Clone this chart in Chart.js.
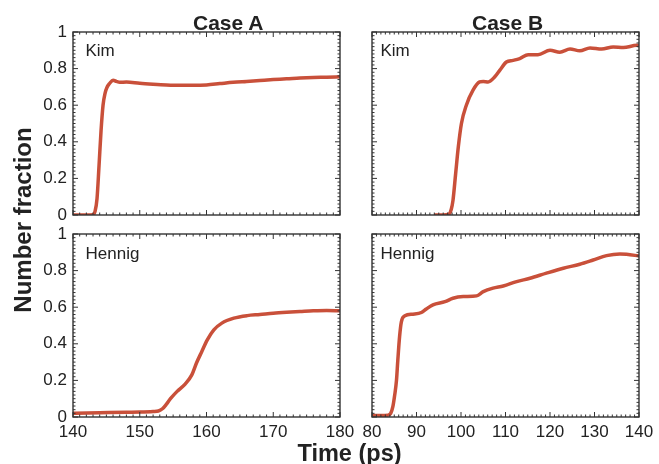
<!DOCTYPE html>
<html>
<head>
<meta charset="utf-8">
<title>Number fraction vs time</title>
<script src="https://cdn.jsdelivr.net/npm/chart.js@4.4.1/dist/chart.umd.min.js"></script>
<style>
  body { margin: 0; background: #fff; }
  #figure {
    position: relative;
    width: 659px;
    height: 464px;
    overflow: hidden;
    background: #fff;
    font-family: "Liberation Sans", Arial, sans-serif;
    color: #222;
  }
  #figure canvas { position: absolute; left: 0; top: 0; }
  .label { position: absolute; white-space: nowrap; line-height: 1; }
  .case { font-size: 21px; font-weight: bold; top: 11.5px; }
  .model { font-size: 17px; }
  .axis-title { font-size: 23.5px; font-weight: bold; }
  #ylabel {
    font-size: 24px;
    line-height: 24px;
    width: 300px;
    text-align: center;
    left: -126.6px;
    top: 208px;
    transform: rotate(-90deg);
  }
</style>
</head>
<body>
<div id="figure">
  <canvas id="kimA" width="659" height="464"></canvas>
  <canvas id="kimB" width="659" height="464"></canvas>
  <canvas id="hennigA" width="659" height="464"></canvas>
  <canvas id="hennigB" width="659" height="464"></canvas>

  <div class="label case" style="left:193px">Case A</div>
  <div class="label case" style="left:472px">Case B</div>
  <div class="label model" style="left:85.5px; top:41.6px">Kim</div>
  <div class="label model" style="left:380.5px; top:41.6px">Kim</div>
  <div class="label model" style="left:85.5px; top:245px">Hennig</div>
  <div class="label model" style="left:380.5px; top:245px">Hennig</div>
  <div class="label axis-title" style="left:297.5px; top:442px">Time (ps)</div>
  <div class="label axis-title" id="ylabel">Number fraction</div>
</div>

<script>
// Case A, Kim potential
const kimATime = [140, 141, 142, 143, 143.3, 143.6, 143.9, 144.2, 144.5, 144.8, 145.1, 145.5, 146, 146.5, 147, 148,
  150, 152, 154, 156, 158, 160, 162, 164, 166, 168, 170, 172, 174, 176, 178, 180];
const kimAFrac = [0, 0, 0, 0.002, 0.02, 0.09, 0.27, 0.46, 0.6, 0.665, 0.698, 0.72, 0.737, 0.73, 0.725, 0.727,
  0.72, 0.715, 0.711, 0.709, 0.709, 0.711, 0.718, 0.725, 0.73, 0.735, 0.74, 0.744, 0.749, 0.752, 0.753, 0.755];

// Case A, Hennig potential
const hennigATime = [140, 144, 148, 150, 152, 152.8, 153.4, 154, 154.6, 155.6, 156.8, 157.8, 158.5, 159.3,
  160.1, 161.1, 162.3, 164.1, 166.1, 168, 170, 172, 174, 176, 178, 180];
const hennigAFrac = [0.02, 0.023, 0.026, 0.027, 0.03, 0.033, 0.045, 0.07, 0.1, 0.14, 0.18, 0.23, 0.295, 0.358,
  0.42, 0.476, 0.513, 0.54, 0.554, 0.56, 0.567, 0.572, 0.576, 0.58, 0.582, 0.58];

// Case B, Kim potential
const kimBTime = [94, 96, 97.3, 97.8, 98.2, 98.8, 99.4, 100.1, 101.2, 102.7, 104.2, 105, 106.1, 107.6, 108.7,
  110.2, 111.7, 113.2, 115.1, 117.3, 120, 122.2, 124.5, 126.7, 129, 131.6, 134.2, 136.5, 139.5, 140];
const kimBFrac = [0, 0, 0.005, 0.03, 0.08, 0.227, 0.373, 0.5, 0.6, 0.682, 0.727, 0.73, 0.727, 0.755, 0.79,
  0.836, 0.845, 0.855, 0.876, 0.876, 0.9, 0.89, 0.907, 0.897, 0.913, 0.907, 0.918, 0.915, 0.927, 0.925];

// Case B, Hennig potential
const hennigBTime = [80, 82, 83.6, 84.2, 84.7, 85.1, 85.5, 85.8, 86.2, 86.6, 87.4, 89.2, 91.1, 92.2, 93.7, 96.4,
  98.2, 100.5, 103.5, 105, 107.2, 109.5, 112.5, 115.5, 119.2, 123, 126.7, 129.7, 132.7, 135.7, 137.2, 140];
const hennigBFrac = [0.008, 0.008, 0.01, 0.02, 0.058, 0.12, 0.2, 0.31, 0.44, 0.52, 0.553, 0.562, 0.571, 0.59,
  0.613, 0.63, 0.649, 0.658, 0.662, 0.685, 0.704, 0.716, 0.74, 0.758, 0.786, 0.813, 0.835, 0.858, 0.882,
  0.891, 0.889, 0.88];

// Axis ticks
const timeTicksA = [140, 150, 160, 170, 180];
const timeTicksB = [80, 90, 100, 110, 120, 130, 140];
const fracTicks = [0, 0.2, 0.4, 0.6, 0.8, 1];

const LINE_COLOR = '#c9503a';
const AXIS_COLOR = '#333';
const PAGE_W = 659;
const PAGE_H = 464;

/**
 * Frame around the plot area with inward major/minor ticks on all four sides
 */
const framePlugin = {
  id: 'frame',
  afterDraw(chart) {
    const { ctx, chartArea: a } = chart;
    const x = chart.scales.x;
    const y = chart.scales.y;

    ctx.save();
    ctx.strokeStyle = AXIS_COLOR;
    ctx.lineWidth = 1;
    ctx.beginPath();

    // time ticks every 1 ps, major every 10
    for (let v = Math.ceil(x.min); v <= x.max; v += 1) {
      const px = x.getPixelForValue(v);
      const len = v % 10 === 0 ? 5 : 2.5;
      ctx.moveTo(px, a.bottom);
      ctx.lineTo(px, a.bottom - len);
      ctx.moveTo(px, a.top);
      ctx.lineTo(px, a.top + len);
    }

    // fraction ticks every 0.02, major every 0.2
    for (let i = 0; i <= 50; i++) {
      const py = y.getPixelForValue(i * 0.02);
      const len = i % 10 === 0 ? 5 : 2.5;
      ctx.moveTo(a.left, py);
      ctx.lineTo(a.left + len, py);
      ctx.moveTo(a.right, py);
      ctx.lineTo(a.right - len, py);
    }
    ctx.stroke();

    ctx.lineWidth = 1.4;
    ctx.strokeRect(a.left, a.top, a.right - a.left, a.bottom - a.top);
    ctx.restore();
  }
};

/**
 * Build one panel: a line chart whose plot area sits at box = [left, top, right, bottom]
 */
function makePanel(canvasId, time, frac, xTicks, box, showX, showY) {
  const yWidth = showY ? 45 : 0;
  const xHeight = showX ? 30 : 0;
  const [left, top, right, bottom] = box;

  return new Chart(document.getElementById(canvasId), {
    type: 'line',
    data: {
      datasets: [{
        data: time.map((t, i) => ({ x: t, y: frac[i] })),
        borderColor: LINE_COLOR,
        borderWidth: 3.5,
        pointRadius: 0,
        fill: false,
        cubicInterpolationMode: 'monotone'
      }]
    },
    options: {
      responsive: false,
      animation: false,
      devicePixelRatio: 1,
      layout: {
        padding: {
          left: left - yWidth,
          top: top,
          right: PAGE_W - right,
          bottom: PAGE_H - bottom - xHeight
        }
      },
      plugins: {
        legend: { display: false },
        tooltip: { enabled: false }
      },
      scales: {
        x: {
          type: 'linear',
          min: xTicks[0],
          max: xTicks[xTicks.length - 1],
          afterBuildTicks: scale => { scale.ticks = xTicks.map(v => ({ value: v })); },
          afterFit: scale => { scale.height = xHeight; },
          grid: { display: false, drawTicks: false },
          border: { display: false },
          ticks: {
            display: showX,
            autoSkip: false,
            maxRotation: 0,
            padding: 5,
            color: '#222',
            font: { family: '"Liberation Sans", Arial, sans-serif', size: 17 },
            callback: v => String(v)
          }
        },
        y: {
          type: 'linear',
          min: 0,
          max: 1,
          afterBuildTicks: scale => { scale.ticks = fracTicks.map(v => ({ value: v })); },
          afterFit: scale => { scale.width = yWidth; },
          grid: { display: false, drawTicks: false },
          border: { display: false },
          ticks: {
            display: showY,
            autoSkip: false,
            padding: 6,
            color: '#222',
            font: { family: '"Liberation Sans", Arial, sans-serif', size: 17 },
            callback: v => String(v)
          }
        }
      }
    },
    plugins: [framePlugin]
  });
}

makePanel('kimA', kimATime, kimAFrac, timeTicksA, [73, 32, 340, 215], false, true);
makePanel('kimB', kimBTime, kimBFrac, timeTicksB, [372, 32, 639, 215], false, false);
makePanel('hennigA', hennigATime, hennigAFrac, timeTicksA, [73, 234, 340, 417], true, true);
makePanel('hennigB', hennigBTime, hennigBFrac, timeTicksB, [372, 234, 639, 417], true, false);
</script>
</body>
</html>
